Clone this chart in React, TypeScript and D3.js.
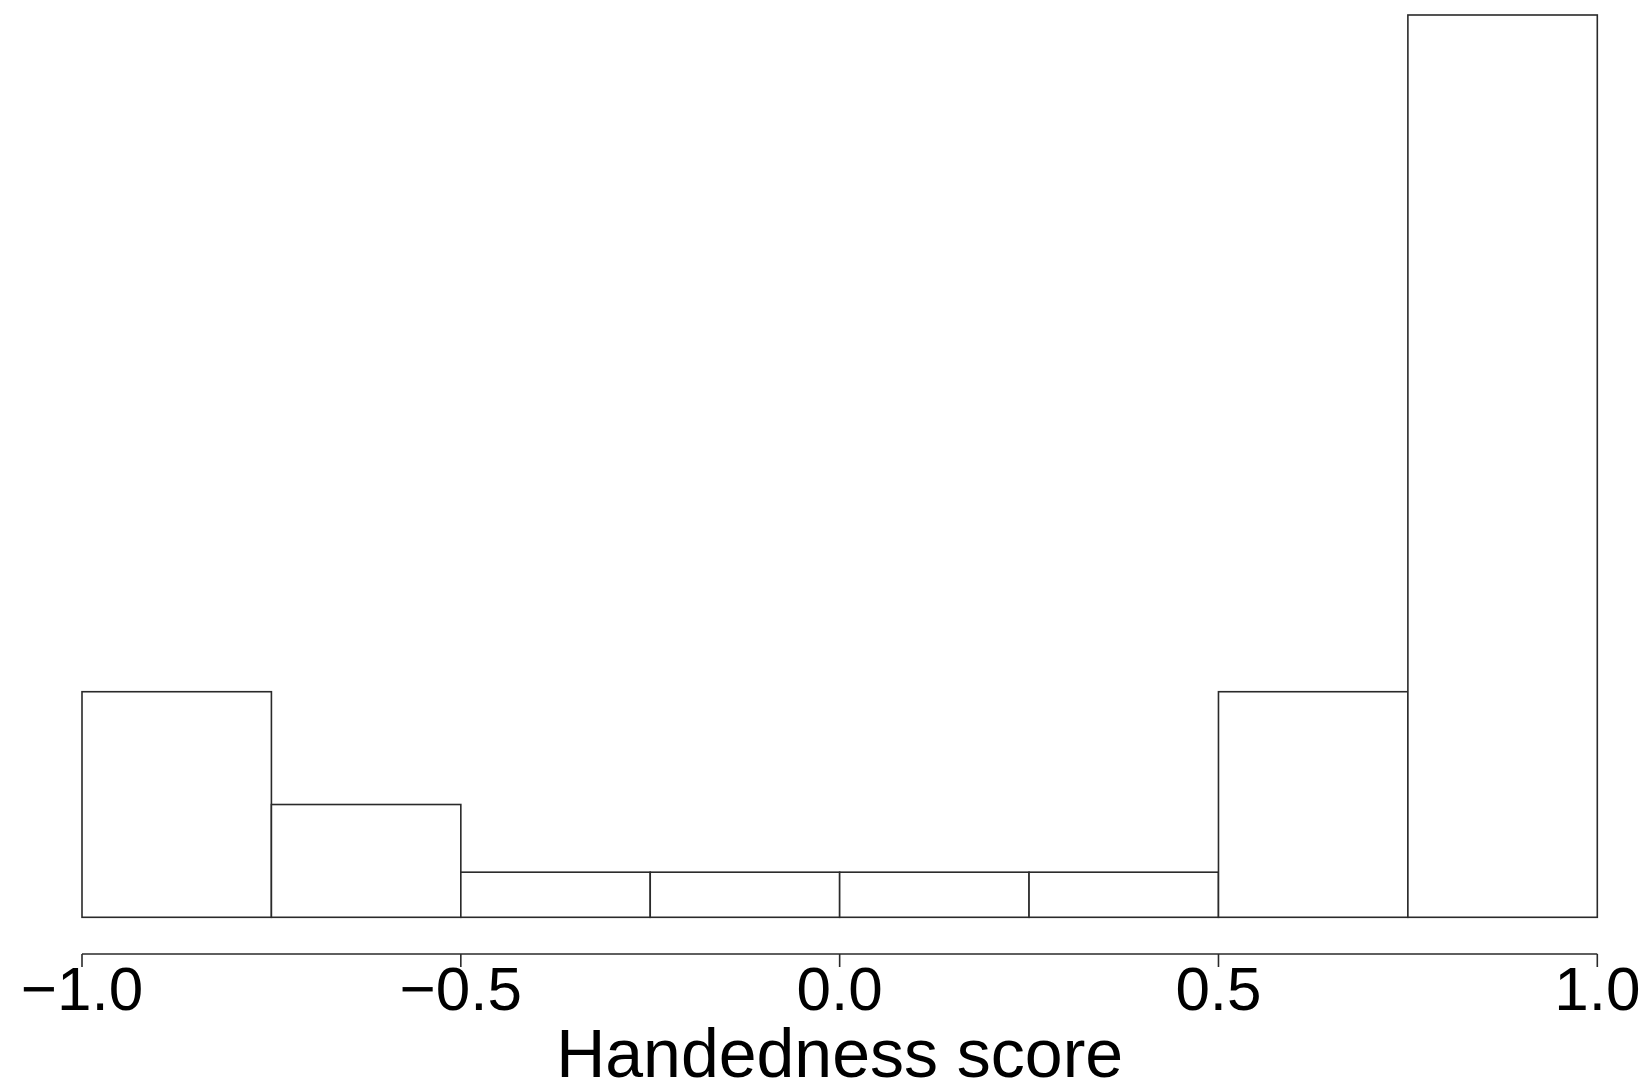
import { scaleLinear } from 'd3'

const width = 1652,
      height = 1085,
      margin = { top: 15, right: 55, bottom: 168, left: 82 },
      plotRight = 1597.3,
      baseline = 917.3,
      axisY = 954,
      tickLen = 13

// histogram bins (left edges + last right edge) and counts
const binEdges = [-1.0, -0.75, -0.5, -0.25, 0.0, 0.25, 0.5, 0.75, 1.0]
const counts = [10, 5, 2, 2, 2, 2, 10, 40]

const tickValues = [-1.0, -0.5, 0.0, 0.5, 1.0]
const tickLabels = ['−1.0', '−0.5', '0.0', '0.5', '1.0']
const xTitle = 'Handedness score'

const x = scaleLinear()
  .domain([-1, 1])
  .range([margin.left, plotRight])

const y = scaleLinear()
  .domain([0, 40])
  .range([baseline, margin.top])

const stroke = '#2a2a2a'

export default function App() {
  return (
    <svg
      width={width}
      height={height}
      style={{ position: 'absolute', left: 0, top: 0, background: '#fff' }}
      fontFamily="'Liberation Sans', Arial, Helvetica, sans-serif"
    >
      <g className='bars'>
        { counts.map((c, i) =>
          <rect
            key={i}
            x={x(binEdges[i])}
            y={y(c)}
            width={x(binEdges[i + 1]) - x(binEdges[i])}
            height={y(0) - y(c)}
            fill='#fff'
            stroke={stroke}
            strokeWidth='1.6'
          />
        )}
      </g>

      <g className='x-axis'>
        <line
          x1={x(tickValues[0])} y1={axisY}
          x2={x(tickValues[tickValues.length - 1])} y2={axisY}
          stroke={stroke}
          strokeWidth='1.6'
        />
        { tickValues.map((t, i) =>
          <g key={i} transform={`translate(${x(t)}, 0)`}>
            <line x1='0' y1={axisY} x2='0' y2={axisY + tickLen} stroke={stroke} strokeWidth='1.6' />
            <text x='0' y='1010' textAnchor='middle' fontSize='62' fill='#000'>{tickLabels[i]}</text>
          </g>
        )}
        <text x={x(0)} y='1077' textAnchor='middle' fontSize='68' fill='#000'>{xTitle}</text>
      </g>
    </svg>
  )
}
